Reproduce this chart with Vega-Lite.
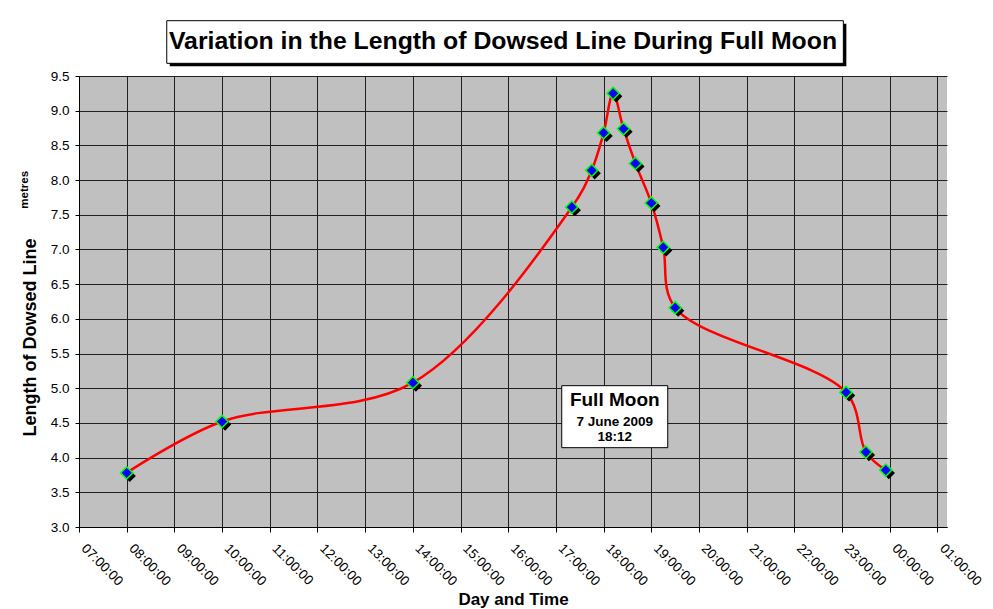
{
  "$schema": "https://vega.github.io/schema/vega-lite/v6.json",
  "width": 868,
  "height": 451,
  "autosize": {"type": "none"},
  "padding": {"left": 79, "top": 76, "right": 46, "bottom": 82},
  "background": "#ffffff",
  "config": {
    "font": "Liberation Sans",
    "view": {"fill": "#C0C0C0", "stroke": null},
    "axis": {
      "domainColor": "#000000",
      "tickColor": "#000000",
      "gridColor": "#202020",
      "gridWidth": 1,
      "labelColor": "#000000",
      "titleColor": "#000000",
      "labelFont": "Liberation Sans",
      "titleFont": "Liberation Sans"
    }
  },
  "title": {
    "text": "Variation in the Length of Dowsed Line During Full Moon",
    "font": "Liberation Sans",
    "fontSize": 24.8,
    "fontWeight": "bold",
    "color": "#000000",
    "anchor": "middle",
    "frame": "group",
    "offset": -35,
    "dx": -10
  },
  "datasets": {
    "readings": [
      {"time": "2009-06-07T08:00:00", "length": 3.78},
      {"time": "2009-06-07T10:00:00", "length": 4.52},
      {"time": "2009-06-07T14:00:00", "length": 5.08},
      {"time": "2009-06-07T17:20:00", "length": 7.61},
      {"time": "2009-06-07T17:45:00", "length": 8.14},
      {"time": "2009-06-07T18:00:00", "length": 8.68},
      {"time": "2009-06-07T18:12:00", "length": 9.25},
      {"time": "2009-06-07T18:25:00", "length": 8.74},
      {"time": "2009-06-07T18:40:00", "length": 8.24},
      {"time": "2009-06-07T19:00:00", "length": 7.67},
      {"time": "2009-06-07T19:15:00", "length": 7.03},
      {"time": "2009-06-07T19:30:00", "length": 6.16},
      {"time": "2009-06-07T23:05:00", "length": 4.94},
      {"time": "2009-06-07T23:30:00", "length": 4.08},
      {"time": "2009-06-07T23:55:00", "length": 3.82}
    ],
    "note": [
      {"time": "2009-06-07T18:14:00", "length": 4.59, "head": "Full Moon", "date": "7 June 2009", "clock": "18:12"}
    ],
    "unit": [
      {"time": "2009-06-07T07:00:00", "length": 7.86, "unit": "metres"}
    ],
    "frame": [
      {"time": "2009-06-07T15:56:00", "length": 9.99}
    ]
  },
  "encoding": {
    "x": {
      "field": "time",
      "type": "temporal",
      "scale": {"domain": ["2009-06-07T07:00:00", "2009-06-08T01:12:00"]},
      "axis": {
        "title": "Day and Time",
        "titleFontSize": 17,
        "titleFontWeight": "bold",
        "titlePadding": 4,
        "format": "%H:%M:%S",
        "values": [
          {"year": 2009, "month": 6, "date": 7, "hours": 7},
          {"year": 2009, "month": 6, "date": 7, "hours": 8},
          {"year": 2009, "month": 6, "date": 7, "hours": 9},
          {"year": 2009, "month": 6, "date": 7, "hours": 10},
          {"year": 2009, "month": 6, "date": 7, "hours": 11},
          {"year": 2009, "month": 6, "date": 7, "hours": 12},
          {"year": 2009, "month": 6, "date": 7, "hours": 13},
          {"year": 2009, "month": 6, "date": 7, "hours": 14},
          {"year": 2009, "month": 6, "date": 7, "hours": 15},
          {"year": 2009, "month": 6, "date": 7, "hours": 16},
          {"year": 2009, "month": 6, "date": 7, "hours": 17},
          {"year": 2009, "month": 6, "date": 7, "hours": 18},
          {"year": 2009, "month": 6, "date": 7, "hours": 19},
          {"year": 2009, "month": 6, "date": 7, "hours": 20},
          {"year": 2009, "month": 6, "date": 7, "hours": 21},
          {"year": 2009, "month": 6, "date": 7, "hours": 22},
          {"year": 2009, "month": 6, "date": 7, "hours": 23},
          {"year": 2009, "month": 6, "date": 8, "hours": 0},
          {"year": 2009, "month": 6, "date": 8, "hours": 1}
        ],
        "labelAngle": 45,
        "labelAlign": "left",
        "labelBaseline": "top",
        "labelFontSize": 13.5,
        "labelPadding": 9,
        "labelOffset": 9,
        "labelOverlap": false,
        "labelFlush": false,
        "labelBound": false,
        "tickSize": 5,
        "grid": true
      }
    },
    "y": {
      "field": "length",
      "type": "quantitative",
      "scale": {"domain": [3, 9.5], "nice": false, "zero": false},
      "axis": {
        "title": "Length of Dowsed Line",
        "titleFontSize": 18,
        "titleFontWeight": "bold",
        "titleX": -40,
        "titleY": 261,
        "values": [3, 3.5, 4, 4.5, 5, 5.5, 6, 6.5, 7, 7.5, 8, 8.5, 9, 9.5],
        "format": ".1f",
        "labelFontSize": 13.5,
        "labelPadding": 6,
        "labelOverlap": false,
        "tickSize": 4,
        "grid": true
      }
    }
  },
  "layer": [
    {
      "data": {"name": "frame"},
      "mark": {"type": "point", "shape": "M-1,-0.063L1,-0.063L1,0.063L-1,0.063Z", "size": 457788, "filled": true, "color": "#000000", "opacity": 1, "xOffset": 3, "yOffset": 3}
    },
    {
      "data": {"name": "frame"},
      "mark": {"type": "point", "shape": "M-1,-0.063L1,-0.063L1,0.063L-1,0.063Z", "size": 457788, "filled": true, "fill": "#ffffff", "stroke": "#000000", "strokeWidth": 1, "opacity": 1}
    },
    {
      "data": {"name": "readings"},
      "mark": {"type": "line", "interpolate": "catmull-rom", "color": "#FF0000", "strokeWidth": 2.5}
    },
    {
      "data": {"name": "readings"},
      "mark": {"type": "point", "shape": "diamond", "filled": true, "color": "#000000", "size": 150, "opacity": 1, "xOffset": 3, "yOffset": 3}
    },
    {
      "data": {"name": "readings"},
      "mark": {"type": "point", "shape": "diamond", "filled": true, "fill": "#0000FF", "stroke": "#00FF00", "strokeWidth": 1.5, "size": 150, "opacity": 1}
    },
    {
      "data": {"name": "note"},
      "mark": {"type": "point", "shape": "M-1,-0.585L1,-0.585L1,0.585L-1,0.585Z", "size": 11236, "filled": true, "fill": "#ffffff", "stroke": "#000000", "strokeWidth": 1, "opacity": 1}
    },
    {
      "data": {"name": "note"},
      "mark": {"type": "text", "fontSize": 19, "fontWeight": "bold", "baseline": "alphabetic", "align": "center", "dy": -11, "color": "#000000"},
      "encoding": {"text": {"field": "head"}}
    },
    {
      "data": {"name": "note"},
      "mark": {"type": "text", "fontSize": 13.5, "fontWeight": "bold", "baseline": "alphabetic", "align": "center", "dy": 9, "color": "#000000"},
      "encoding": {"text": {"field": "date"}}
    },
    {
      "data": {"name": "note"},
      "mark": {"type": "text", "fontSize": 13.5, "fontWeight": "bold", "baseline": "alphabetic", "align": "center", "dy": 24, "color": "#000000"},
      "encoding": {"text": {"field": "clock"}}
    },
    {
      "data": {"name": "unit"},
      "mark": {"type": "text", "fontSize": 11.5, "fontWeight": "bold", "baseline": "alphabetic", "align": "center", "angle": 270, "dy": -51.5, "color": "#000000"},
      "encoding": {"text": {"field": "unit"}}
    }
  ]
}
